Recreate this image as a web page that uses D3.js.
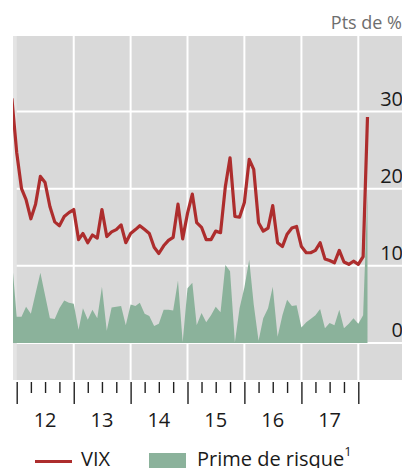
<!DOCTYPE html>
<html>
<head>
<meta charset="utf-8">
<script src="https://cdn.jsdelivr.net/npm/d3@7"></script>
<style>
  body { margin: 0; background: #fff; }
  svg { display: block; font-family: "Open Sans", sans-serif; }
</style>
</head>
<body>
<div id="chart"></div>
<script>
// Monthly values, first month Nov 2011, last Feb 2018
const startMonth = new Date(2011, 10, 1);

const vix = [
  31.7, 24.7, 20.0, 18.6, 16.1, 18.0, 21.6, 20.8, 17.7, 15.7, 15.2, 16.4,
  16.9, 17.3, 13.4, 14.2, 13.0, 14.0, 13.6, 17.3, 13.8, 14.4, 14.7, 15.3,
  13.0, 14.2, 14.7, 15.2, 14.7, 14.2, 12.4, 11.6, 12.6, 13.3, 13.7, 18.0,
  13.5, 16.8, 19.3, 15.6, 15.0, 13.4, 13.4, 14.5, 14.3, 20.3, 24.0, 16.4,
  16.3, 18.2, 23.8, 22.5, 15.6, 14.5, 14.9, 17.8, 13.0, 12.5, 14.1, 14.9,
  15.1, 12.5, 11.7, 11.7, 12.0, 13.0, 10.9, 10.7, 10.4, 12.0, 10.5, 10.2,
  10.6, 10.2, 11.2, 29.3
];

const prime = [
  10.9, 3.4, 3.4, 4.7, 3.8, 6.4, 9.1, 6.2, 3.2, 3.1, 4.5, 5.5,
  5.2, 5.1, 1.7, 4.5, 3.0, 4.3, 3.2, 7.3, 1.6, 4.6, 4.7, 4.8,
  2.3, 5.0, 4.8, 5.2, 3.8, 3.5, 2.2, 2.5, 4.3, 4.3, 4.2, 8.1,
  0.1, 7.1, 7.8, 2.3, 3.9, 2.7, 3.6, 4.7, 4.0, 10.1, 9.3, 0.1,
  4.5, 7.2, 10.8, 5.0, 0.3, 3.2, 4.5, 7.3, 0.8, 3.6, 5.6, 4.8,
  4.9, 2.0, 2.7, 3.1, 3.6, 4.4, 1.9, 2.6, 2.3, 4.3, 1.9, 2.5,
  3.2, 2.5, 3.6, 19.5
];

const years = [2012, 2013, 2014, 2015, 2016, 2017];
const yTicks = [0, 10, 20, 30];

const width = 402, height = 468;
const plot = {left: 13, right: 402, top: 36, bottom: 380};

const svg = d3.select("#chart")
    .append("svg")
    .attr("width", width)
    .attr("height", height);

const x = d3.scaleTime()
    .domain([new Date(2012, 0, 1), new Date(2018, 0, 1)])
    .range([16.7, 358.3]);

const y = d3.scaleLinear()
    .domain([-4.8, 39.8])
    .range([plot.bottom, plot.top]);

// each point sits at the end of its month
const rows = vix.map((v, i) => ({
    date: d3.timeMonth.offset(startMonth, i + 1),
    vix: v,
    prime: prime[i]
}));

// Background
svg.append("rect")
    .attr("x", plot.left)
    .attr("y", plot.top)
    .attr("width", plot.right - plot.left)
    .attr("height", plot.bottom - plot.top)
    .style("fill", "#d9d9d9");

svg.append("rect")
    .attr("x", plot.left)
    .attr("y", plot.top)
    .attr("width", x(new Date(2012, 0, 1)) - plot.left)
    .attr("height", plot.bottom - plot.top)
    .style("fill", "#e4e4e4");

// Grid
svg.selectAll(".hgrid")
    .data(yTicks)
    .enter().append("line")
        .attr("class", "hgrid")
        .attr("x1", x(new Date(2012, 0, 1)))
        .attr("x2", plot.right)
        .attr("y1", d => y(d))
        .attr("y2", d => y(d))
        .style("stroke", "#fff")
        .style("stroke-width", 2);

svg.selectAll(".vgrid")
    .data(years.map(yr => new Date(yr + 1, 0, 1)))
    .enter().append("line")
        .attr("class", "vgrid")
        .attr("x1", d => x(d))
        .attr("x2", d => x(d))
        .attr("y1", plot.top)
        .attr("y2", plot.bottom)
        .style("stroke", "#fff")
        .style("stroke-width", 2);

svg.append("defs").append("clipPath")
    .attr("id", "plot-clip")
    .append("rect")
        .attr("x", plot.left)
        .attr("y", plot.top)
        .attr("width", plot.right - plot.left)
        .attr("height", plot.bottom - plot.top);

const series = svg.append("g").attr("clip-path", "url(#plot-clip)");

series.append("path")
    .datum(rows)
    .attr("d", d3.area()
        .x(d => x(d.date))
        .y0(y(0))
        .y1(d => y(d.prime)))
    .style("fill", "#8bb29b");

series.append("path")
    .datum(rows)
    .attr("d", d3.line()
        .x(d => x(d.date))
        .y(d => y(d.vix)))
    .style("fill", "none")
    .style("stroke", "#ad2d2d")
    .style("stroke-width", 3.2)
    .style("stroke-linejoin", "round");

// Right-hand value labels
svg.selectAll(".ylabel")
    .data(yTicks)
    .enter().append("text")
        .attr("class", "ylabel")
        .attr("x", 403)
        .attr("y", d => y(d) - 6)
        .attr("text-anchor", "end")
        .style("font-size", "20px")
        .style("fill", "#1a1a1a")
        .text(d => d);

svg.append("text")
    .attr("x", 402)
    .attr("y", 29)
    .attr("text-anchor", "end")
    .style("font-size", "18px")
    .style("fill", "#6e6e6e")
    .text("Pts de %");

// Quarterly ticks, longer at each year
const axis = svg.append("g")
    .attr("transform", `translate(0,${plot.bottom + 2})`)
    .call(d3.axisBottom(x)
        .tickValues(d3.timeMonth.every(3).range(new Date(2012, 0, 1), new Date(2018, 0, 2)))
        .tickSize(11)
        .tickFormat(""));

axis.select(".domain").remove();
axis.selectAll(".tick line")
    .style("stroke", "#222")
    .style("stroke-width", 1.4)
    .attr("y2", d => d.getMonth() === 0 ? 22 : 11);

svg.selectAll(".year-label")
    .data(years)
    .enter().append("text")
        .attr("class", "year-label")
        .attr("x", d => x(new Date(d, 6, 1)))
        .attr("y", 427)
        .attr("text-anchor", "middle")
        .style("font-size", "20px")
        .style("fill", "#1a1a1a")
        .text(d => String(d).slice(2));

// Legend
const legend = svg.append("g");

legend.append("line")
    .attr("x1", 35)
    .attr("x2", 72)
    .attr("y1", 461.5)
    .attr("y2", 461.5)
    .style("stroke", "#ad2d2d")
    .style("stroke-width", 3);

legend.append("text")
    .attr("x", 81)
    .attr("y", 466)
    .style("font-size", "20px")
    .style("fill", "#1a1a1a")
    .text("VIX");

legend.append("rect")
    .attr("x", 149)
    .attr("y", 453)
    .attr("width", 37)
    .attr("height", 18)
    .style("fill", "#8bb29b");

const primeLabel = legend.append("text")
    .attr("x", 197)
    .attr("y", 466)
    .style("font-size", "20px")
    .style("fill", "#1a1a1a")
    .text("Prime de risque");

primeLabel.append("tspan")
    .attr("dy", -10)
    .style("font-size", "13px")
    .text("1");
</script>
</body>
</html>
